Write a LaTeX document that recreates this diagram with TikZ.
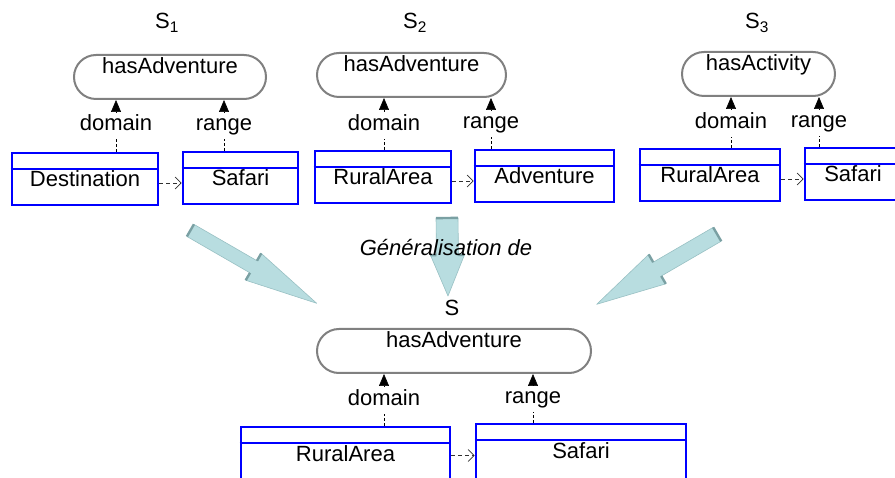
\documentclass[tikz,border=0pt]{standalone}
\usepackage{fontspec}
\setmainfont{Liberation Sans}
\usepackage{tikz}
\usetikzlibrary{calc,arrows.meta}
\definecolor{clsblue}{HTML}{0000FF}
\definecolor{pillgray}{HTML}{808080}
\definecolor{genfill}{HTML}{B8DDE0}
\definecolor{genedge}{HTML}{7AA0A3}
\definecolor{genline}{HTML}{98C0C3}
\definecolor{linkgray}{HTML}{303030}
\tikzset{
  prop/.style={draw=pillgray, line width=2pt, rounded corners=22pt, minimum height=44pt,
    inner sep=0pt, text height=19pt, text depth=25pt},
  cls/.style={draw=clsblue, line width=2.6pt, minimum height=52pt, inner sep=0pt,
    text height=34pt, text depth=18pt},
  clsrule/.style={draw=clsblue, line width=2.6pt},
  lab/.style={inner sep=3pt, anchor=base, text height=16pt, text depth=5pt},
  dom/.style={draw=black, line width=0.6pt, dash pattern=on 3pt off 2pt},
  headonly/.style={draw=black, line width=0.6pt, -{Triangle[length=12pt,width=10pt]}},
  link/.style={draw=linkgray, line width=0.7pt, dash pattern=on 4pt off 3pt,
    -{Straight Barb[length=6pt,width=12pt]}},
  gen/.style={fill=genfill, draw=genline, line width=0.6pt, line join=round},
  genback/.style={draw=genedge, line width=2.4pt},
}

\begin{document}
\begin{tikzpicture}[x=1pt,y=-1pt,font=\fontsize{22}{25}\selectfont]
  \useasboundingbox (0,0) rectangle (895,478);
  \clip (0,0) rectangle (895,478);

  % generalisation arrows
  \coordinate (g1a) at (190.4,230.4);
  \coordinate (g1b) at (316.7,303.3);
  \coordinate (g2a) at (447,218);
  \coordinate (g2b) at (448,296);
  \coordinate (g3a) at (717.2,234.3);
  \coordinate (g3b) at (596.7,304.3);
  \foreach \a/\b/\w/\hw/\hl in {g1a/g1b/7/15.5/73, g2a/g2b/11/17/41, g3a/g3b/8/17/70}{
    \coordinate (h) at ($(\b)!\hl pt!(\a)$);
    \path[gen] ($(\a)!\w pt!90:(\b)$) -- ($(h)!\w pt!90:(\b)$) -- ($(h)!\hw pt!90:(\b)$)
      -- (\b) -- ($(h)!\hw pt!-90:(\b)$) -- ($(h)!\w pt!-90:(\b)$)
      -- ($(\a)!\w pt!-90:(\b)$) -- cycle;
    \draw[genback] ($(\a)!\w pt!90:(\b)$) -- ($(\a)!\w pt!-90:(\b)$);
    \draw[genback] ($(h)!\w pt!90:(\b)$) -- ($(h)!\hw pt!90:(\b)$);
    \draw[genback] ($(h)!\w pt!-90:(\b)$) -- ($(h)!\hw pt!-90:(\b)$);
  }
  \node[lab] (gentxt) at (446,256) {\itshape Généralisation de};

  % schemas
  \node[lab] (s1) at (167,29) {S\textsubscript{1}};
  \node[lab] (s2) at (415,29) {S\textsubscript{2}};
  \node[lab] (s3) at (757,29) {S\textsubscript{3}};
  \node[lab] (sB) at (452,316) {S};

  \node[prop, minimum width=192pt] (p1) at (170,77) {hasAdventure};
  \node[prop, minimum width=189pt] (p2) at (411.5,75) {hasAdventure};
  \node[prop, minimum width=153pt] (p3) at (758.5,74) {hasActivity};
  \node[prop, minimum width=274pt] (pS) at (454,351) {hasAdventure};

  \node[cls, minimum width=146pt] (dest) at (85,179) {Destination};
  \node[cls, minimum width=115pt] (saf1) at (240.5,178) {Safari};
  \node[cls, minimum width=136pt] (rur2) at (383,177) {RuralArea};
  \node[cls, minimum width=139pt] (adv2) at (544.5,176) {Adventure};
  \node[cls, minimum width=140pt] (rur3) at (710,175) {RuralArea};
  \node[cls, minimum width=96pt] (saf3) at (853,174) {Safari};
  \node[cls, minimum width=209pt, minimum height=57pt, text depth=23pt] (rurB) at (345.5,455.5) {RuralArea};
  \node[cls, minimum width=210pt, minimum height=57pt, text depth=23pt] (safB) at (581,452.5) {Safari};
  \foreach \n in {dest,saf1,rur2,adv2,rur3,saf3,rurB,safB}
    \draw[clsrule] ($(\n.north west)+(0,17.5)$) -- ($(\n.north east)+(0,17.5)$);

  \node[lab] (d1) at (116,131) {domain};
  \node[lab] (r1) at (224,131) {range};
  \node[lab] (d2) at (384,131) {domain};
  \node[lab] (r2) at (491,129) {range};
  \node[lab] (d3) at (731,129) {domain};
  \node[lab] (r3) at (819,128) {range};
  \node[lab] (dB) at (384,406) {domain};
  \node[lab] (rB) at (533,404) {range};

  \foreach \c/\l/\p in {dest/d1/p1, saf1/r1/p1, rur2/d2/p2, adv2/r2/p2,
      rur3/d3/p3, saf3/r3/p3, rurB/dB/pS, safB/rB/pS}{
    \draw[dom] (\c.north -| \l) -- (\l.south);
    \draw[headonly] (\l.north) -- (\p.south -| \l);
  }

  \foreach \a/\b in {dest/saf1, rur2/adv2, rur3/saf3}
    \draw[link] ([yshift=-4pt]\a.east) -- ([yshift=-4pt]\a.east -| \b.west);
  \draw[link] (rurB.east) -- (rurB.east -| safB.west);
\end{tikzpicture}
\end{document}
